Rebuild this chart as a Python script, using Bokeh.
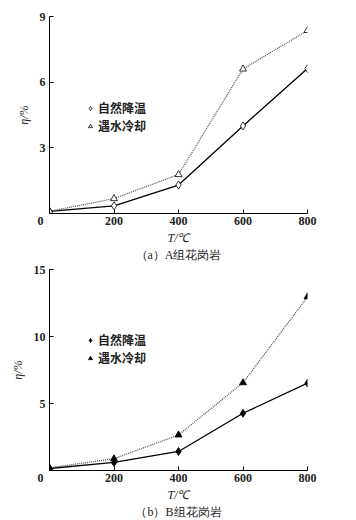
from bokeh.plotting import figure
from bokeh.layouts import column
from bokeh.models import FixedTicker, Legend, LegendItem, Title, Range1d
from bokeh.embed import file_html
from bokeh.resources import INLINE

T = [0, 200, 400, 600, 800]
a_natural = [0.1, 0.35, 1.3, 4.0, 6.62]
a_water = [0.1, 0.68, 1.78, 6.6, 8.36]
b_natural = [0.15, 0.6, 1.42, 4.27, 6.52]
b_water = [0.2, 0.88, 2.65, 6.55, 12.96]
a_yticks = [3, 6, 9]
b_yticks = [5, 10, 15]
x_ticks = [0, 200, 400, 600, 800]
x_labels = {0: "0\u2002\u2002\u2002"}
series_names = ["自然降温", "遇水冷却"]
captions = ["（a）A组花岗岩", "（b）B组花岗岩"]

SERIF = "Liberation Serif"
CJK = "Noto Sans CJK SC"


def make(nat, wat, ymax, yticks, caption, filled, height, top, legend_y):
    p = figure(width=340, height=height, output_backend="svg", toolbar_location=None,
               x_range=Range1d(0, 800), y_range=Range1d(0, ymax),
               min_border_left=49, min_border_right=33, min_border_top=top,
               min_border_bottom=10)
    p.outline_line_color = None
    p.grid.visible = False
    p.background_fill_color = "white"
    p.border_fill_color = "white"

    p.line(T, nat, line_color="black", line_width=1.3)
    p.line(T, wat, line_color="#555555", line_width=1.3, line_dash="1 1")
    fill = "black" if filled else "white"
    r1 = p.scatter(T, nat, marker="diamond", size=8, line_color="black", fill_color=fill, line_width=0.8)
    r2 = p.scatter(T, wat, marker="triangle", size=7, line_color="black", fill_color=fill, line_width=0.8)

    for ax in (p.xaxis[0], p.yaxis[0]):
        ax.major_tick_in = 4
        ax.major_tick_out = 0
        ax.minor_tick_in = 0
        ax.minor_tick_out = 0
        ax.axis_line_color = "black"
        ax.major_tick_line_color = "black"
        ax.major_label_text_font = SERIF
        ax.major_label_text_font_style = "bold"
        ax.major_label_text_font_size = "12px"
        ax.major_label_text_color = "#222222"
        ax.axis_label_text_font = SERIF
        ax.axis_label_text_font_style = "italic"
        ax.axis_label_text_font_size = "12px"
        ax.axis_label_text_color = "#222222"
    p.xaxis[0].ticker = FixedTicker(ticks=x_ticks)
    p.xaxis[0].major_label_overrides = x_labels
    p.yaxis[0].ticker = FixedTicker(ticks=yticks)
    p.xaxis[0].axis_label = "T/℃"
    p.yaxis[0].axis_label = "η/%"
    p.xaxis[0].major_label_standoff = 0
    p.xaxis[0].axis_label_standoff = 0
    p.yaxis[0].major_label_standoff = 4
    p.yaxis[0].axis_label_standoff = 6

    legend = Legend(items=[LegendItem(label=series_names[0], renderers=[r1]),
                           LegendItem(label=series_names[1], renderers=[r2])],
                    location=(36, legend_y), border_line_color=None,
                    background_fill_alpha=0, padding=0, margin=0, spacing=1,
                    glyph_width=10, glyph_height=12, label_height=14,
                    label_standoff=3,
                    label_text_font=CJK, label_text_font_style="bold",
                    label_text_font_size="12px", label_text_color="#222222")
    p.add_layout(legend, "center")

    t = Title(text=caption, align="center", vertical_align="top", text_font=SERIF,
              text_font_style="normal", text_font_size="12px", text_color="#222222",
              standoff=0, offset=0, text_line_height=1.0)
    p.add_layout(t, "below")
    return p


p1 = make(a_natural, a_water, 9, a_yticks, captions[0], False, 263, 16, 79)
p2 = make(b_natural, b_water, 15, b_yticks, captions[1], True, 257, 6, 104)
lay = column(p1, p2, spacing=0)

open("out.html", "w").write(file_html(lay, INLINE))
